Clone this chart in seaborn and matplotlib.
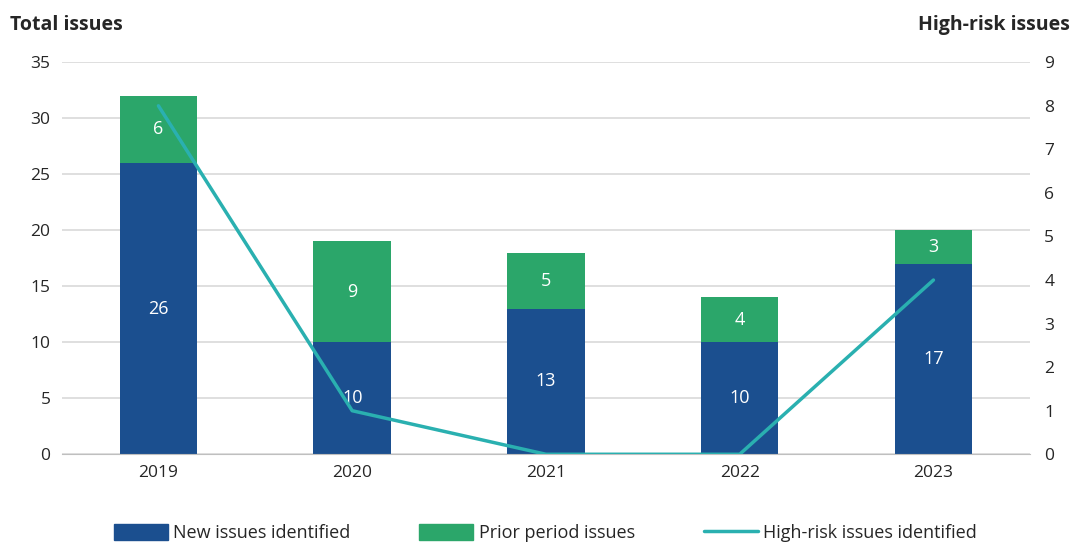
import matplotlib
matplotlib.use("Agg")
import matplotlib.pyplot as plt
import seaborn as sns
import pandas as pd
from matplotlib.patches import Patch
from matplotlib.lines import Line2D

# Data
years = ['2019', '2020', '2021', '2022', '2023']
new_issues = [26, 10, 13, 10, 17]
prior_issues = [6, 9, 5, 4, 3]
high_risk = [8, 1, 0, 0, 4]

blue = '#1B4F8F'
green = '#2BA66A'
teal = '#2AB0B0'

df = pd.DataFrame({'Year': years, 'New': new_issues, 'Prior': prior_issues, 'HighRisk': high_risk})
df['Total'] = df['New'] + df['Prior']

sns.set_style("white")
plt.rcParams['font.family'] = ['Open Sans', 'DejaVu Sans']

fig = plt.figure(figsize=(10.8, 5.46), dpi=100)
ax = fig.add_axes([0.057, 0.168, 0.897, 0.718])

# stacked bars: total first (green) then new issues on top (blue)
sns.barplot(data=df, x='Year', y='Total', color=green, width=0.4, saturation=1, linewidth=0, ax=ax)
sns.barplot(data=df, x='Year', y='New', color=blue, width=0.4, saturation=1, linewidth=0, ax=ax)

ax.set_ylim(0, 35)
ax.set_yticks(range(0, 36, 5))
ax.set_xlim(-0.5, 4.5)
ax.grid(axis='y', color='#D9D9D9', linewidth=1.2)
ax.set_axisbelow(True)
for s in ['top', 'right', 'left']:
    ax.spines[s].set_visible(False)
ax.spines['bottom'].set_color('#BFBFBF')
ax.tick_params(axis='both', length=0, labelsize=12.5, pad=8)
ax.set_xlabel('')
ax.set_ylabel('')

# value labels
for i, row in df.iterrows():
    ax.text(i, row['New'] / 2, str(row['New']), ha='center', va='center', color='white', fontsize=13)
    ax.text(i, row['New'] + row['Prior'] / 2, str(row['Prior']), ha='center', va='center', color='white', fontsize=13)

# high-risk line on secondary axis
ax2 = ax.twinx()
sns.lineplot(x=range(len(years)), y=df['HighRisk'], color=teal, linewidth=2.5, ax=ax2)
ax2.set_ylim(0, 9)
ax2.set_yticks(range(0, 10))
ax2.set_xlim(-0.5, 4.5)
for s in ['top', 'right', 'left', 'bottom']:
    ax2.spines[s].set_visible(False)
ax2.tick_params(axis='y', length=0, labelsize=12.5, pad=10)
ax2.set_ylabel('')
ax2.grid(False)

fig.text(0.009, 0.955, 'Total issues', fontsize=14, fontweight='bold', ha='left', va='center')
fig.text(0.991, 0.955, 'High-risk issues', fontsize=14, fontweight='bold', ha='right', va='center')

handles = [Patch(color=blue, label='New issues identified'),
           Patch(color=green, label='Prior period issues'),
           Line2D([0], [0], color=teal, linewidth=2.5, label='High-risk issues identified')]
fig.legend(handles=handles, loc='center', bbox_to_anchor=(0.505, 0.024), ncol=3, frameon=False,
           fontsize=13, handlelength=3.0, handleheight=1.0, columnspacing=3.8, handletextpad=0.3)

plt.savefig('out.png', dpi=100)
